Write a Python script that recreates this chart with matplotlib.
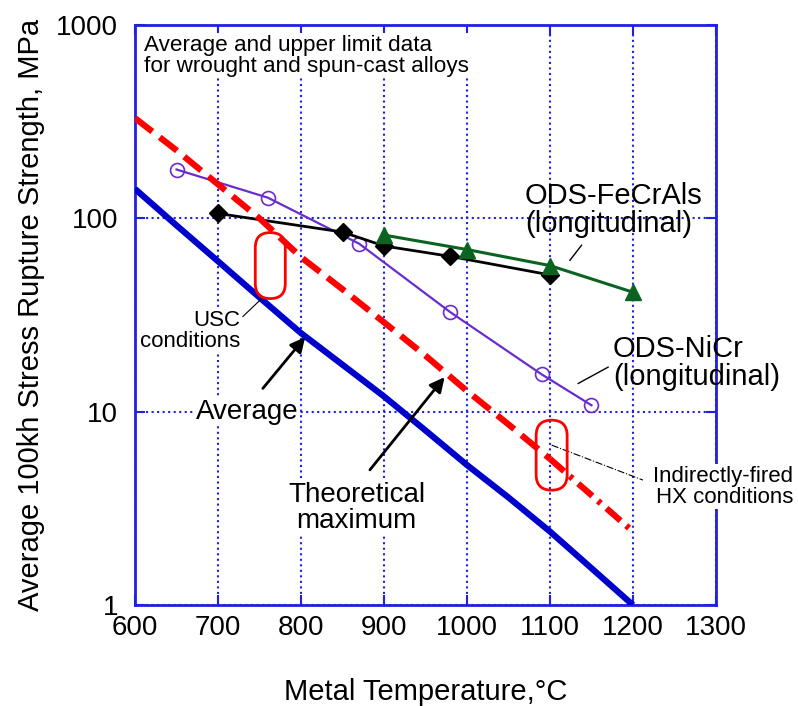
import numpy as np
import matplotlib.pyplot as plt
from matplotlib.patches import FancyBboxPatch
from matplotlib.transforms import IdentityTransform

plt.rcParams['font.family'] = ['Liberation Sans', 'DejaVu Sans']

# ====================================
# data
# ====================================
avg_T = [600, 650, 700, 750, 800, 850, 900, 950, 1000, 1050, 1100, 1150, 1200]
avg_S = [142, 92, 60, 39, 25.5, 17.5, 12, 8.0, 5.3, 3.6, 2.4, 1.55, 1.0]

max_T = [600, 650, 700, 750, 800, 850, 900, 950, 1000, 1050, 1100, 1150, 1200]
max_S = [330, 225, 150, 100, 63, 43, 29, 19.5, 12.8, 8.6, 5.7, 3.7, 2.4]

nicr_T = [650, 760, 870, 980, 1090, 1150]
nicr_S = [179, 128, 74, 32.7, 15.6, 10.8]

fecral_T = [700, 850, 900, 980, 1100]
fecral_S = [106, 85, 72, 63.6, 51]

fecral2_T = [900, 1000, 1100, 1200]
fecral2_S = [82, 69, 57, 41.5]

xticks = [600, 700, 800, 900, 1000, 1100, 1200, 1300]
yticks = [1, 10, 100, 1000]

blue = '#0000cc'
axcol = '#2020e0'
red = '#ff0000'
purple = '#6a2ccc'
green = '#0a6420'

# ====================================
# plot
# ====================================
fig = plt.figure(figsize=(7.98, 7.06), dpi=100)
ax = fig.add_axes([0.1692, 0.143, 0.728, 0.8215])
ax.set_yscale('log')
ax.set_xlim(600, 1300)
ax.set_ylim(1, 1000)

ax.plot(avg_T, avg_S, color=blue, lw=4.5, solid_capstyle='butt', zorder=4)

# theoretical max: dashed up to 1100, dash-dot after
ax.plot(max_T[:11], max_S[:11], color=red, lw=4.5, ls=(0, (3.5, 1.5)), zorder=5)
ax.plot(max_T[10:], max_S[10:], color=red, lw=4.5, ls=(0, (3.0, 1.2, 0.6, 1.2)), zorder=5)

ax.plot(nicr_T, nicr_S, color=purple, lw=1.6, marker='o', ms=10, mfc='none',
        mec=purple, mew=1.2, zorder=4)
ax.plot(fecral_T, fecral_S, color='k', lw=2, marker='D', ms=9, zorder=4)
ax.plot(fecral2_T, fecral2_S, color=green, lw=2.2, marker='^', ms=11, zorder=4)

# axes styling
ax.set_xticks(xticks)
ax.set_yticks(yticks)
ax.set_yticklabels([str(v) for v in yticks])
ax.minorticks_off()
ax.tick_params(direction='in', length=7, width=1.5, color=axcol,
               top=True, right=True, labelsize=20)
ax.tick_params(axis='x', pad=7)
ax.tick_params(axis='y', pad=12)
for s in ax.spines.values():
    s.set_color(axcol)
    s.set_linewidth(2)
ax.grid(True, color=axcol, ls=':', lw=1.5)

ax.set_xlabel('Metal Temperature,°C', fontsize=21, labelpad=27)
ax.set_ylabel('Average 100kh Stress Rupture Strength, MPa', fontsize=21, labelpad=8)

# ====================================
# annotations
# ====================================
wbox = dict(fc='white', ec='none', pad=1)
ax.text(611, 890, 'Average and upper limit data\nfor wrought and spun-cast alloys',
        fontsize=16.2, va='top', ha='left', linespacing=1.0, bbox=wbox, zorder=6)
ax.text(1070, 110, 'ODS-FeCrAls\n(longitudinal)', fontsize=21, va='center',
        ha='left', linespacing=1.0, zorder=6)
ax.text(1176, 17.8, 'ODS-NiCr\n(longitudinal)', fontsize=21, va='center',
        ha='left', linespacing=1.0, zorder=6)
ax.text(735, 10, 'Average', fontsize=20, va='center', ha='center', bbox=wbox, zorder=6)
ax.text(867, 3.17, 'Theoretical\nmaximum', fontsize=20, va='center', ha='center',
        linespacing=1.0, bbox=wbox, zorder=6)
ax.text(727, 26, 'USC\nconditions', fontsize=16, va='center', ha='right',
        linespacing=1.0, bbox=wbox, zorder=6)
ax.text(1393, 4.1, 'Indirectly-fired\nHX conditions', fontsize=16, va='center',
        ha='right', linespacing=1.0, bbox=wbox, zorder=6, clip_on=False)

ax.annotate('', xy=(805, 24.3), xytext=(754, 13.2),
            arrowprops=dict(arrowstyle='-|>', color='k', lw=2, mutation_scale=22,
                            shrinkA=0, shrinkB=0), zorder=7)
ax.annotate('', xy=(973, 15.1), xytext=(883, 5.0),
            arrowprops=dict(arrowstyle='-|>', color='k', lw=2, mutation_scale=22,
                            shrinkA=0, shrinkB=0), zorder=7)

# leader lines
ax.plot([753, 730], [38.6, 31.1], color='k', lw=0.8, zorder=6)
ax.plot([1102, 1212], [6.72, 4.43], color='k', lw=0.8, ls='-.', zorder=6)
ax.plot([1138, 1124], [72.6, 60.7], color='k', lw=1.0, zorder=6)
ax.plot([1170, 1134], [17.0, 14.0], color='k', lw=1.0, zorder=6)

# red rounded rings
for (cx, cy, w, h) in [(763, 57, 30, 66), (1102, 5.96, 31, 70)]:
    px, py = ax.transData.transform((cx, cy))
    ring = FancyBboxPatch((px - w / 2, py - h / 2), w, h,
                          boxstyle=f'round,pad=0,rounding_size={w / 2}',
                          fc='none', ec=red, lw=2, transform=IdentityTransform(),
                          zorder=6)
    ax.add_patch(ring)

fig.savefig('out.png', dpi=100)
